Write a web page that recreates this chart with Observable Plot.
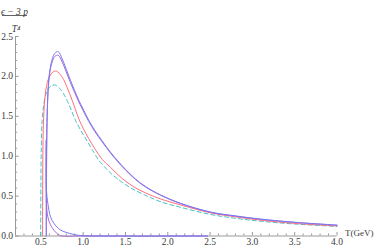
<!DOCTYPE html>
<html>
<head>
<meta charset="utf-8">
<script src="https://cdn.jsdelivr.net/npm/d3@7"></script>
<script src="https://cdn.jsdelivr.net/npm/@observablehq/plot@0.6"></script>
<style>
  html, body { margin: 0; padding: 0; background: #fff; }
  #chart svg { display: block; }
  #chart svg, #chart svg text { font-family: "Liberation Serif", "Times New Roman", "DejaVu Serif", serif !important; }
</style>
</head>
<body>
<div id="chart"></div>
<script>
// ---- data ----
const blueT = [0.565, 0.567, 0.575, 0.59, 0.61, 0.635, 0.665, 0.705, 0.752, 0.80, 0.85, 0.90, 0.948, 1.0, 1.066, 1.14, 1.225, 1.323, 1.402, 1.5, 1.618, 1.737, 1.914, 2.15, 2.505, 2.8, 3.1, 3.5, 4.0];
const blueV = [0, 0.8, 1.5, 1.9, 2.1, 2.22, 2.29, 2.31, 2.22, 2.09, 1.95, 1.82, 1.70, 1.59, 1.45, 1.32, 1.19, 1.05, 0.95, 0.835, 0.715, 0.62, 0.515, 0.41, 0.30, 0.252, 0.212, 0.172, 0.137];

const purpleT = [0.563, 0.565, 0.573, 0.588, 0.608, 0.633, 0.665, 0.705, 0.752, 0.80, 0.85, 0.90, 0.948, 1.0, 1.066, 1.14, 1.225, 1.323, 1.402, 1.5, 1.618, 1.737, 1.914, 2.15, 2.505, 2.8, 3.1, 3.5, 4.0];
const purpleV = [0, 0.8, 1.5, 1.88, 2.07, 2.18, 2.25, 2.265, 2.18, 2.055, 1.92, 1.795, 1.68, 1.57, 1.435, 1.305, 1.178, 1.04, 0.94, 0.827, 0.708, 0.614, 0.511, 0.407, 0.297, 0.249, 0.209, 0.17, 0.135];

const redT = [0.52, 0.522, 0.53, 0.545, 0.565, 0.59, 0.62, 0.65, 0.685, 0.752, 0.811, 0.87, 0.948, 1.0, 1.066, 1.14, 1.225, 1.323, 1.461, 1.6, 1.737, 1.914, 2.15, 2.505, 2.8, 3.1, 3.5, 4.0];
const redV = [0, 0.8, 1.4, 1.7, 1.87, 1.97, 2.03, 2.06, 2.065, 1.99, 1.86, 1.70, 1.47, 1.35, 1.22, 1.09, 0.96, 0.86, 0.72, 0.615, 0.54, 0.465, 0.39, 0.29, 0.24, 0.198, 0.158, 0.125];

const tealT = [0.497, 0.50, 0.505, 0.515, 0.535, 0.56, 0.60, 0.64, 0.673, 0.72, 0.77, 0.83, 0.87, 0.909, 0.968, 1.047, 1.125, 1.184, 1.25, 1.323, 1.402, 1.55, 1.737, 1.914, 2.15, 2.505, 2.8, 3.1, 3.5, 4.0];
const tealV = [0, 0.6, 1.1, 1.45, 1.65, 1.78, 1.86, 1.89, 1.89, 1.85, 1.78, 1.65, 1.55, 1.45, 1.33, 1.19, 1.05, 0.95, 0.87, 0.79, 0.72, 0.61, 0.51, 0.43, 0.36, 0.27, 0.222, 0.185, 0.15, 0.12];

// low-temperature branches
const blueLowT = [0.564, 0.566, 0.582, 0.614, 0.653, 0.732, 0.87, 0.968, 1.3, 2.47];
const blueLowV = [1.2, 0.575, 0.41, 0.24, 0.16, 0.075, 0.025, 0.006, 0.0005, 0];
const purpleLowT = [0.562, 0.566, 0.582, 0.614, 0.673, 0.732, 1.0, 2.47];
const purpleLowV = [1.2, 0.41, 0.24, 0.14, 0.05, 0.006, 0.0005, 0];

const xMajor = [0.5, 1.0, 1.5, 2.0, 2.5, 3.0, 3.5, 4.0];
const yMajor = [0.0, 0.5, 1.0, 1.5, 2.0, 2.5];
const xMinor = d3.range(3, 40).map(i => i / 10).filter(v => !xMajor.some(m => Math.abs(m - v) < 1e-9));
const yMinor = d3.range(1, 25).map(i => i / 10).filter(v => !yMajor.some(m => Math.abs(m - v) < 1e-9));

const series = [
  {id: "teal", T: tealT, V: tealV, color: "#3ec4c4", dash: "4,3"},
  {id: "red", T: redT, V: redV, color: "#ff6f78", dash: null},
  {id: "purple", T: purpleT, V: purpleV, color: "#a96ad2", dash: null},
  {id: "blue", T: blueT, V: blueV, color: "#7878f2", dash: null},
  {id: "purpleLow", T: purpleLowT, V: purpleLowV, color: "#a96ad2", dash: null},
  {id: "blueLow", T: blueLowT, V: blueLowV, color: "#7878f2", dash: null}
];
const rows = s => s.T.map((t, i) => ({T: t, v: s.V[i]}));

const axisColor = "#9a9a9a";
const textColor = "#3a3a3a";
const font = "Liberation Serif";

// fraction bar of the y-axis label
const fractionBar = (index, scales, values, dims) => {
  const g = d3.create("svg:g");
  g.append("line")
    .attr("x1", 2).attr("x2", 27)
    .attr("y1", 15.5).attr("y2", 15.5)
    .attr("stroke", textColor).attr("stroke-width", 0.8);
  return g.node();
};

const chart = Plot.plot({
  width: 374,
  height: 249,
  marginLeft: 15,
  marginRight: 37.5,
  marginTop: 36,
  marginBottom: 13.5,
  style: {fontFamily: font, background: "#fff"},
  x: {domain: [0.2, 4.0], axis: null},
  y: {domain: [0, 2.5], axis: null},
  marks: [
    // axis lines
    Plot.ruleY([0], {x1: 0.2, x2: 4.0, stroke: axisColor, strokeWidth: 1}),
    Plot.ruleX([0.2], {y1: 0, y2: 2.5, stroke: axisColor, strokeWidth: 1}),
    // inward ticks
    Plot.ruleX(xMajor, {y1: 0, y2: 0.045, stroke: axisColor}),
    Plot.ruleX(xMinor, {y1: 0, y2: 0.026, stroke: axisColor}),
    Plot.ruleY(yMajor, {x1: 0.2, x2: 0.243, stroke: axisColor}),
    Plot.ruleY(yMinor, {x1: 0.2, x2: 0.226, stroke: axisColor}),
    // tick labels
    Plot.axisX({ticks: xMajor, tickSize: 0, tickPadding: 2, tickFormat: d3.format(".1f"), fontSize: 9.5, fontFamily: font, fill: textColor, label: null}),
    Plot.axisY({ticks: yMajor, tickSize: 0, tickPadding: 2.5, tickFormat: d3.format(".1f"), fontSize: 9.5, fontFamily: font, fill: textColor, label: null}),
    // curves
    ...series.map(s => Plot.line(rows(s), {
      x: "T", y: "v", stroke: s.color, strokeWidth: 1,
      strokeDasharray: s.dash, curve: "catmull-rom"
    })),
    // axis titles
    Plot.text(["T(GeV)"], {frameAnchor: "bottom-right", textAnchor: "start", dx: 8, dy: 0, fontSize: 9, fontFamily: font, fill: textColor}),
    Plot.text(["ϵ − 3 p"], {frameAnchor: "top-left", textAnchor: "middle", dx: -1, dy: -28, fontSize: 9.5, fontFamily: font, fill: textColor, fontStyle: "italic"}),
    Plot.text(["T⁴"], {frameAnchor: "top-left", textAnchor: "middle", dx: 0.5, dy: -11, fontSize: 9.5, fontFamily: font, fill: textColor, fontStyle: "italic"}),
    fractionBar
  ]
});
document.getElementById("chart").appendChild(chart);
</script>
</body>
</html>
